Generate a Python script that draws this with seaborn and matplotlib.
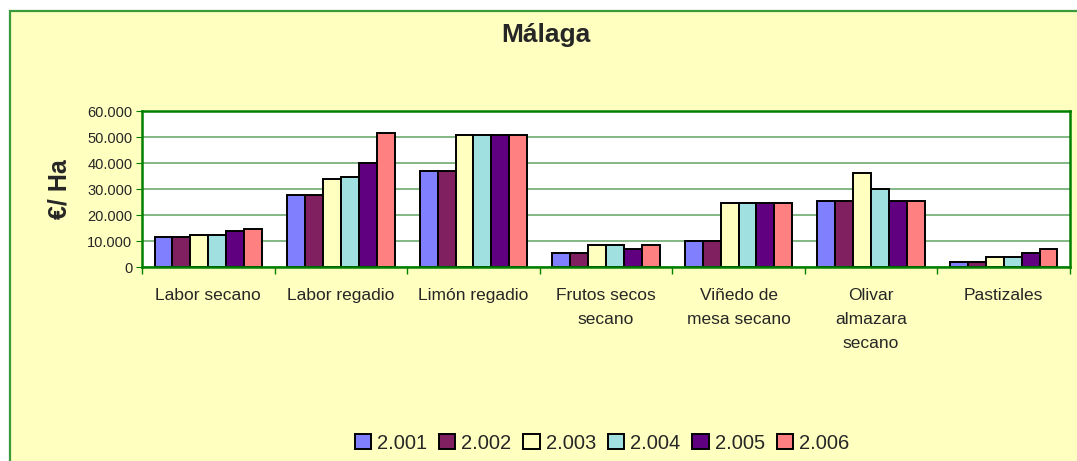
import matplotlib
matplotlib.use("Agg")
import matplotlib.pyplot as plt
import pandas as pd
import seaborn as sns
from matplotlib.patches import Rectangle
from matplotlib.ticker import FuncFormatter, FixedLocator

# Data
cultivos = ["Labor secano", "Labor regadio", "Limón regadio", "Frutos secos\nsecano",
            "Viñedo de\nmesa secano", "Olivar\nalmazara\nsecano", "Pastizales"]
anios = ["2.001", "2.002", "2.003", "2.004", "2.005", "2.006"]
v2001 = [11500, 27700, 37000, 5300, 9900, 25400, 1900]
v2002 = [11500, 27700, 37000, 5300, 9900, 25400, 1900]
v2003 = [12200, 33900, 50900, 8400, 24600, 36100, 3800]
v2004 = [12200, 34600, 50900, 8400, 24600, 30000, 3800]
v2005 = [13800, 40100, 50900, 6800, 24600, 25400, 5300]
v2006 = [14600, 51500, 50900, 8400, 24600, 25400, 6800]
colores = ["#8080FF", "#802060", "#FFFFC0", "#A0E0E0", "#600080", "#FF8080"]

series = [v2001, v2002, v2003, v2004, v2005, v2006]
rows = []
for anio, vals in zip(anios, series):
    for c, v in zip(cultivos, vals):
        rows.append({"cultivo": c, "anio": anio, "valor": v})
df = pd.DataFrame(rows)

sns.set_style("white")
plt.rcParams["font.family"] = ["Liberation Sans", "DejaVu Sans"]

fig = plt.figure(figsize=(10.77, 4.61), dpi=100)
fig.patch.set_facecolor("white")
# yellow chart area with green frame
fig.patches.append(Rectangle((10 / 1077, -0.05), 1.1, 1 - 11 / 461 + 0.05,
                             transform=fig.transFigure, facecolor="#FFFFC0",
                             edgecolor="#3A9A3A", linewidth=1.6, zorder=-10))

ax = fig.add_axes([142 / 1077, 1 - 267 / 461, 928 / 1077, 156 / 461])
ax.set_facecolor("white")

sns.barplot(data=df, x="cultivo", y="valor", hue="anio", palette=colores,
            saturation=1, edgecolor="black", linewidth=1.4, width=0.81,
            gap=0, ax=ax, legend=True)

ax.set_ylim(0, 60000)
ax.set_xlim(-0.5, 6.5)
ax.set_yticks(range(0, 60001, 10000))
ax.yaxis.set_major_formatter(FuncFormatter(lambda v, p: f"{int(v):,}".replace(",", ".")))
ax.grid(axis="y", color="#70AA70", linewidth=1.2)
ax.set_axisbelow(True)

for s in ax.spines.values():
    s.set_visible(True)
    s.set_color("#008000")
    s.set_linewidth(1.8)

ax.tick_params(axis="y", which="major", left=True, length=4, color="#008000",
               labelsize=10.5, pad=3)
ax.tick_params(axis="x", which="major", length=0, labelsize=12.5, pad=15)
ax.xaxis.set_minor_locator(FixedLocator([k - 0.5 for k in range(8)]))
ax.tick_params(axis="x", which="minor", bottom=True, length=5, color="#008000", width=1)
for t in ax.get_xticklabels():
    t.set_linespacing(1.75)
    t.set_verticalalignment("top")

ax.set_xlabel("")
ax.set_ylabel("€/ Ha", fontsize=18, fontweight="bold", labelpad=11)

fig.text(546 / 1077, 1 - 35 / 461, "Málaga", ha="center", va="center",
         fontsize=19, fontweight="bold")

handles, labels = ax.get_legend_handles_labels()
ax.get_legend().remove()
fig.legend(handles, labels, loc="center", bbox_to_anchor=(602 / 1077, 1 - 443 / 461),
           ncol=6, frameon=False, fontsize=14.5, handlelength=0.8,
           handleheight=0.8, handletextpad=0.3, columnspacing=0.6)

fig.savefig("out.png", dpi=100)
